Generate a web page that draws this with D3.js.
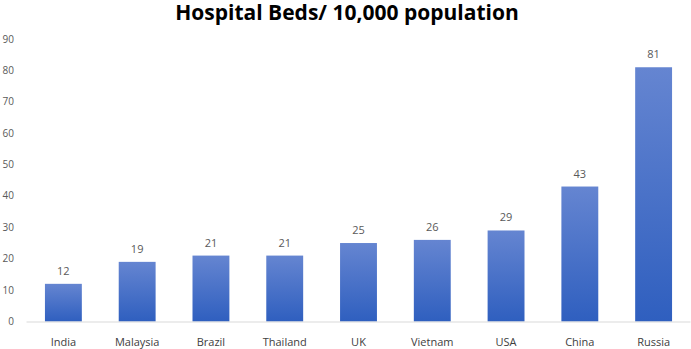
<!DOCTYPE html>
<html>
<head>
<meta charset="utf-8">
<script src="https://cdn.jsdelivr.net/npm/d3@7"></script>
<style>
  body { margin: 0; background: #fff; }
  text { font-family: "Open Sans", sans-serif; }
</style>
</head>
<body>
<div id="chart"></div>
<script>
const w = 691;
const h = 349;

const countries = ["India", "Malaysia", "Brazil", "Thailand", "UK", "Vietnam", "USA", "China", "Russia"];
const beds = [12, 19, 21, 21, 25, 26, 29, 43, 81];
const yTicks = [0, 10, 20, 30, 40, 50, 60, 70, 80, 90];

const svg = d3.select("#chart")
  .append('svg')
  .attr('width', w)
  .attr('height', h);

// gradient per bar
const grad = svg.append('defs').append('linearGradient')
  .attr('id', 'barGrad')
  .attr('x1', 0).attr('y1', 0).attr('x2', 0).attr('y2', 1);
grad.append('stop').attr('offset', '0%').attr('stop-color', '#6585d1');
grad.append('stop').attr('offset', '100%').attr('stop-color', '#2f5fbf');

// title
svg.append('text')
  .attr('x', 347).attr('y', 20)
  .attr('text-anchor', 'middle')
  .style('font-size', '21px')
  .style('font-weight', 'bold')
  .style('fill', '#000')
  .text('Hospital Beds/ 10,000 population');

const xScale = d3.scaleBand()
  .domain(countries)
  .range([26.5, 690.5])
  .paddingInner(0.5)
  .paddingOuter(0.25);

const yScale = d3.scaleLinear()
  .domain([0, 90])
  .range([321.5, 39]);

// y tick labels (no line)
svg.append('g')
  .selectAll('text')
  .data(yTicks)
  .enter()
  .append('text')
  .attr('x', 14)
  .attr('y', d => yScale(d))
  .attr('dy', '0.35em')
  .attr('text-anchor', 'end')
  .style('font-size', '10px')
  .style('fill', '#595959')
  .text(d => d);

// bars
svg.append('g')
  .selectAll('rect')
  .data(beds)
  .enter()
  .append('rect')
  .attr('x', (d, i) => xScale(countries[i]))
  .attr('y', d => yScale(d))
  .attr('width', xScale.bandwidth())
  .attr('height', d => yScale(0) - yScale(d))
  .attr('fill', 'url(#barGrad)');

// value labels
svg.append('g')
  .selectAll('text')
  .data(beds)
  .enter()
  .append('text')
  .attr('x', (d, i) => xScale(countries[i]) + xScale.bandwidth() / 2)
  .attr('y', d => yScale(d) - 9)
  .attr('text-anchor', 'middle')
  .style('font-size', '11px')
  .style('fill', '#595959')
  .text(d => d);

// baseline
svg.append('line')
  .attr('x1', 26.5).attr('x2', 690.5)
  .attr('y1', yScale(0) + 0.5).attr('y2', yScale(0) + 0.5)
  .attr('stroke', '#d9d9d9')
  .attr('stroke-width', 1);

// category labels
svg.append('g')
  .selectAll('text')
  .data(countries)
  .enter()
  .append('text')
  .attr('x', d => xScale(d) + xScale.bandwidth() / 2)
  .attr('y', 346)
  .attr('text-anchor', 'middle')
  .style('font-size', '11px')
  .style('fill', '#404040')
  .text(d => d);
</script>
</body>
</html>
